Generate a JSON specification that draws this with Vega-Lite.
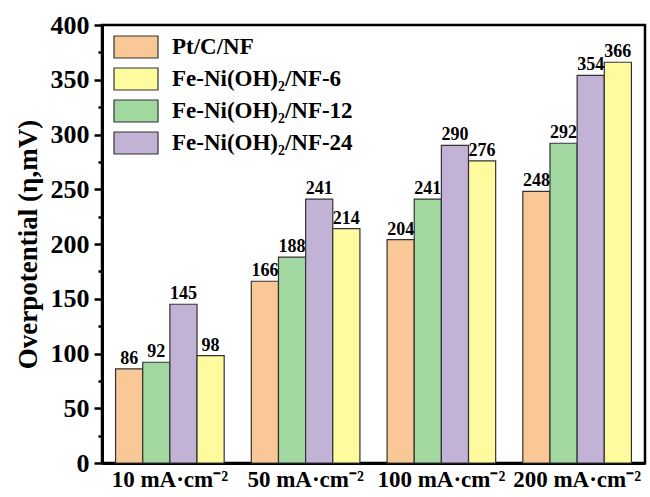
{
  "$schema": "https://vega.github.io/schema/vega-lite/v6.json",
  "width": 543,
  "height": 438,
  "autosize": "none",
  "padding": {"left": 102, "top": 25, "right": 5, "bottom": 34},
  "background": "white",
  "config": {
    "view": {"stroke": "black", "strokeWidth": 2.5},
    "font": "Liberation Serif"
  },
  "data": {
    "values": [
      {"density": "10 mA·cm⁻²", "sample": "Pt/C/NF", "v": 86},
      {"density": "10 mA·cm⁻²", "sample": "Fe-Ni(OH)₂/NF-12", "v": 92},
      {"density": "10 mA·cm⁻²", "sample": "Fe-Ni(OH)₂/NF-24", "v": 145},
      {"density": "10 mA·cm⁻²", "sample": "Fe-Ni(OH)₂/NF-6", "v": 98},
      {"density": "50 mA·cm⁻²", "sample": "Pt/C/NF", "v": 166},
      {"density": "50 mA·cm⁻²", "sample": "Fe-Ni(OH)₂/NF-12", "v": 188},
      {"density": "50 mA·cm⁻²", "sample": "Fe-Ni(OH)₂/NF-24", "v": 241},
      {"density": "50 mA·cm⁻²", "sample": "Fe-Ni(OH)₂/NF-6", "v": 214},
      {"density": "100 mA·cm⁻²", "sample": "Pt/C/NF", "v": 204},
      {"density": "100 mA·cm⁻²", "sample": "Fe-Ni(OH)₂/NF-12", "v": 241},
      {"density": "100 mA·cm⁻²", "sample": "Fe-Ni(OH)₂/NF-24", "v": 290},
      {"density": "100 mA·cm⁻²", "sample": "Fe-Ni(OH)₂/NF-6", "v": 276},
      {"density": "200 mA·cm⁻²", "sample": "Pt/C/NF", "v": 248},
      {"density": "200 mA·cm⁻²", "sample": "Fe-Ni(OH)₂/NF-12", "v": 292},
      {"density": "200 mA·cm⁻²", "sample": "Fe-Ni(OH)₂/NF-24", "v": 354},
      {"density": "200 mA·cm⁻²", "sample": "Fe-Ni(OH)₂/NF-6", "v": 366}
    ]
  },
  "encoding": {
    "x": {
      "field": "density", "type": "nominal", "sort": null,
      "scale": {"paddingInner": 0.2, "paddingOuter": 0.1},
      "axis": {
        "title": null, "labelAngle": 0, "labelFont": "Liberation Serif", "labelFontSize": 23,
        "labelFontWeight": "bold", "labelColor": "black", "ticks": false, "labelPadding": 5,
        "domainColor": "black", "domainWidth": 3
      }
    },
    "xOffset": {
      "field": "sample", "type": "nominal",
      "sort": ["Pt/C/NF", "Fe-Ni(OH)₂/NF-12", "Fe-Ni(OH)₂/NF-24", "Fe-Ni(OH)₂/NF-6"],
      "scale": {"paddingInner": 0, "paddingOuter": 0}
    },
    "y": {
      "field": "v", "type": "quantitative",
      "scale": {"domain": [0, 400], "nice": false},
      "axis": {
        "title": "Overpotential (η,mV)", "titleFont": "Liberation Serif", "titleFontSize": 27,
        "titleFontWeight": "bold", "titleColor": "black", "titlePadding": 8,
        "values": [0, 25, 50, 75, 100, 125, 150, 175, 200, 225, 250, 275, 300, 325, 350, 375, 400],
        "labelExpr": "datum.value % 50 === 0 ? datum.label : ''",
        "labelFont": "Liberation Serif", "labelFontSize": 26, "labelFontWeight": "bold", "labelColor": "black",
        "labelPadding": 5,
        "grid": false, "domainColor": "black", "domainWidth": 3,
        "tickColor": "black", "tickWidth": 2.5,
        "tickSize": {"condition": {"test": "datum.value % 50 === 0", "value": 8}, "value": 4}
      }
    }
  },
  "layer": [
    {
      "mark": {"type": "bar", "stroke": "#333333", "strokeWidth": 1.2},
      "encoding": {
        "color": {
          "field": "sample", "type": "nominal",
          "scale": {
            "domain": ["Pt/C/NF", "Fe-Ni(OH)₂/NF-6", "Fe-Ni(OH)₂/NF-12", "Fe-Ni(OH)₂/NF-24"],
            "range": ["#FAC896", "#FEFB9E", "#A0D8A0", "#C2B2D6"]
          },
          "legend": {
            "title": null, "orient": "none", "legendX": 22, "legendY": 10,
            "symbolType": "M-2,-1H2V1H-2Z", "symbolSize": 484,
            "symbolStrokeColor": "#333333", "symbolStrokeWidth": 1.2, "symbolOpacity": 1,
            "labelFont": "Liberation Serif", "labelFontSize": 23, "labelFontWeight": "bold", "labelColor": "black",
            "labelLimit": 300, "rowPadding": 4, "labelOffset": 24
          }
        }
      }
    },
    {
      "mark": {"type": "text", "baseline": "bottom", "dy": -1, "font": "Liberation Serif", "fontSize": 18, "fontWeight": "bold", "color": "black"},
      "encoding": {"text": {"field": "v", "type": "quantitative"}}
    }
  ]
}
